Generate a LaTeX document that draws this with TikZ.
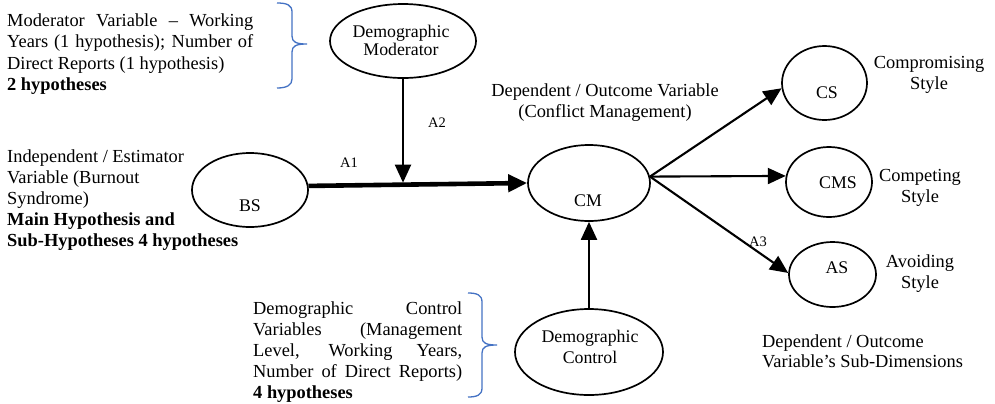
\documentclass[tikz,border=0pt]{standalone}
\usepackage{fontspec}
\setmainfont{Liberation Serif}
\usetikzlibrary{arrows.meta,shapes.geometric}
\definecolor{braceblue}{HTML}{4472C4}
\tikzset{
  oval/.style={draw, ellipse, line width=1.7bp, inner sep=0},
  txt/.style={inner sep=0, font=\fontsize{18.4bp}{21.2bp}\selectfont},
  intxt/.style={inner sep=0, font=\fontsize{17.8bp}{21bp}\selectfont},
  tag/.style={inner sep=0, font=\fontsize{14.5bp}{16bp}\selectfont},
  link/.style={line width=2.1bp, -{Triangle[length=18bp,width=16bp]}},
  mainlink/.style={line width=4.6bp, -{Triangle[length=19bp,width=17bp]}},
  brace/.style={draw=braceblue, line width=1.3bp},
}
\begin{document}
\begin{tikzpicture}[x=1bp, y=-1bp]
\fill[white] (0,0) rectangle (995,403);
\useasboundingbox (0,0) rectangle (995,403);

% variables
\node[oval, minimum width=146bp, minimum height=74bp] (mod) at (403,41) {};
\node[oval, minimum width=116bp, minimum height=74bp] (bs)  at (250,190) {};
\node[oval, minimum width=122bp, minimum height=76bp] (cm)  at (589,183) {};
\node[oval, minimum width=148bp, minimum height=86bp] (ctl) at (589,352) {};
\node[oval, minimum width=85bp,  minimum height=74bp] (cs)  at (824.5,83) {};
\node[oval, minimum width=86bp,  minimum height=70bp] (cms) at (829,182) {};
\node[oval, minimum width=87bp,  minimum height=65bp] (as)  at (832.5,274.5) {};

% labels inside the ovals
\node[intxt, anchor=base] (mod-t) at (401,37.7) {\parbox[t]{130bp}{\centering\baselineskip=18bp Demographic\\Moderator}};
\node[intxt, anchor=base] (bs-t)  at (250,211) {BS};
\node[intxt, anchor=base] (cm-t)  at (588,206) {CM};
\node[intxt, anchor=base] (ctl-t) at (590,342) {\parbox[t]{130bp}{\centering Demographic\\Control}};
\node[intxt, anchor=base] (cs-t)  at (827,98) {CS};
\node[intxt, anchor=base] (cms-t) at (838,188) {CMS};
\node[intxt, anchor=base] (as-t)  at (837,273) {AS};

% notes
\node[txt, anchor=base west] (modnote) at (7,26.7) {\parbox[t]{246bp}{%
  \makebox[\linewidth][s]{Moderator Variable – Working}\\
  \makebox[\linewidth][s]{Years (1 hypothesis); Number of}\\
  Direct Reports (1 hypothesis)\\
  \textbf{2 hypotheses}}};
\node[txt, anchor=base west] (ivnote) at (7,162) {\parbox[t]{260bp}{\raggedright
  Independent / Estimator\\
  Variable (Burnout\\
  Syndrome)\\
  \textbf{Main Hypothesis and}\\
  \textbf{Sub-Hypotheses 4 hypotheses}}};
\node[txt, anchor=base west] (ctlnote) at (253,314) {\parbox[t]{209bp}{%
  \makebox[\linewidth][s]{Demographic Control}\\
  \makebox[\linewidth][s]{Variables (Management}\\
  \makebox[\linewidth][s]{Level, Working Years,}\\
  \makebox[\linewidth][s]{Number of Direct Reports)}\\
  \textbf{4 hypotheses}}};
\node[txt, anchor=base] (dvnote) at (605,96.7) {\parbox[t]{260bp}{\centering\baselineskip=20.3bp
  Dependent / Outcome Variable\\(Conflict Management)}};
\node[txt, anchor=base] (csnote)  at (929,68)  {\parbox[t]{130bp}{\centering Compromising\\Style}};
\node[txt, anchor=base] (cmsnote) at (920,181) {\parbox[t]{130bp}{\centering Competing\\Style}};
\node[txt, anchor=base] (asnote)  at (920,267) {\parbox[t]{130bp}{\centering Avoiding\\Style}};
\node[txt, anchor=base west] (subnote) at (762,347) {\parbox[t]{230bp}{\baselineskip=20.5bp
  Dependent / Outcome\\Variable’s Sub-Dimensions}};

% path labels
\node[tag] (a1) at (349,163) {A1};
\node[tag] (a2) at (437,123) {A2};
\node[tag] (a3) at (758,242) {A3};

% connectors
\draw[mainlink] (bs.4) -- coordinate[pos=0.432] (join) (cm.west);
\draw[link, shorten >=2bp] (mod.south) -- (mod.south |- join);
\draw[link] (ctl.north) -- (cm.south);
\draw[link] (cm.6) -- (cs.187);
\draw[link] (cm.6) -- (cms.172);
\draw[link] (cm.6) -- (as.178);

% braces
\draw[brace] (277,3) .. controls (287,3) and (292,5) .. (292,12) -- (292,36)
  .. controls (292,42) and (296,44) .. (307,44)
  .. controls (296,44) and (292,46) .. (292,52) -- (292,79)
  .. controls (292,85) and (287,88) .. (277,88);
\draw[brace] (468,293) .. controls (477,293) and (482,295) .. (482,302) -- (482,337)
  .. controls (482,343) and (486,345) .. (497,345)
  .. controls (486,345) and (482,347) .. (482,353) -- (482,388)
  .. controls (482,395) and (477,397) .. (468,397);
\end{tikzpicture}
\end{document}
